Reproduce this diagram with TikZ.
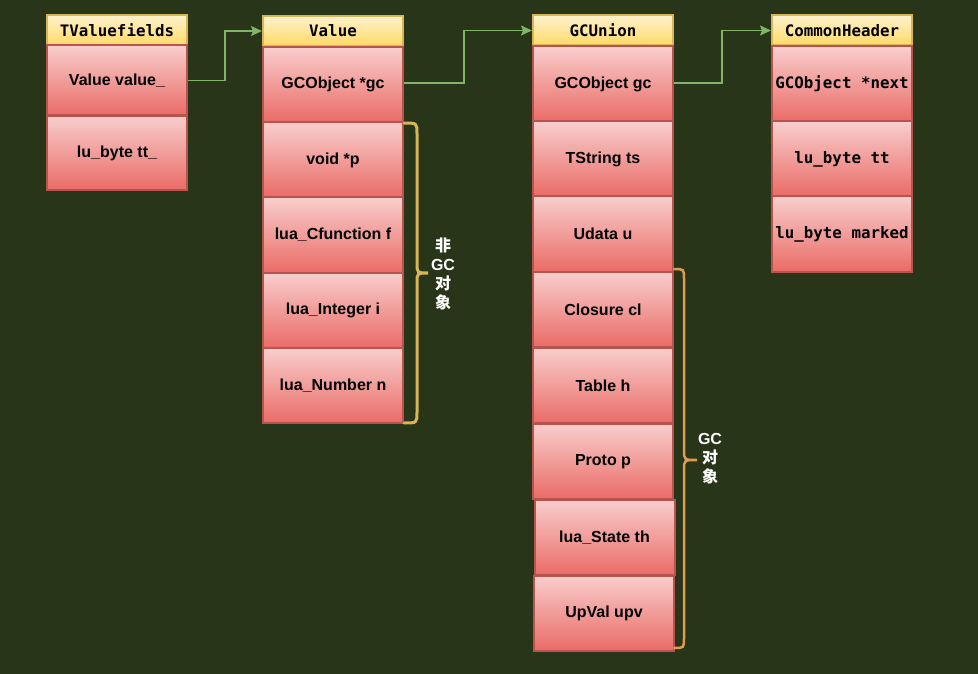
\documentclass[tikz,border=0pt]{standalone}
\usepackage{fontspec}
\setmainfont{Liberation Sans}
\newfontfamily\monofont{DejaVu Sans Mono}
\newfontfamily\cjk{Noto Sans CJK SC}
\usetikzlibrary{arrows.meta}
\definecolor{bg}{RGB}{40,53,24}
\definecolor{rowtop}{RGB}{248,206,204}
\definecolor{rowbot}{RGB}{234,107,102}
\definecolor{rowline}{RGB}{184,84,80}
\definecolor{headtop}{RGB}{255,242,204}
\definecolor{headbot}{RGB}{255,217,102}
\definecolor{headline}{RGB}{214,182,86}
\definecolor{linkgreen}{RGB}{130,179,102}
\definecolor{braceA}{RGB}{214,182,86}
\definecolor{braceB}{RGB}{220,156,82}
\tikzset{
  rowbox/.style={draw=rowline, line width=2pt, top color=rowtop, bottom color=rowbot,
    minimum width=140pt, minimum height=75pt, inner sep=0pt,
    font=\fontsize{16}{19}\selectfont\bfseries, text=black},
  monorow/.style={rowbox, font=\monofont\fontsize{15.8}{19}\selectfont\bfseries},
  headbox/.style={draw=headline, line width=2pt, top color=headtop, bottom color=headbot,
    minimum width=140pt, minimum height=30pt, inner sep=0pt,
    font=\monofont\fontsize{15.8}{19}\selectfont\bfseries, text=black},
  link/.style={draw=linkgreen, line width=1.3pt, -{Stealth[length=11pt,width=10pt,inset=2pt]}},
  bracetext/.style={text=white, align=center, font=\fontsize{16}{19}\selectfont\bfseries},
}
\begin{document}
\begin{tikzpicture}[x=1pt,y=-1pt]
\fill[bg] (0,0) rectangle (978,674);
\useasboundingbox (0,0) rectangle (978,674);

% TValuefields
\node[headbox] (th) at (117,30.5) {TValuefields};
\node[rowbox, minimum height=70pt] (t1) at (117,80.5) {Value value\_};
\node[rowbox, minimum height=74pt] (t2) at (117,153) {lu\_byte tt\_};

% Value
\node[headbox] (vh) at (333,31) {Value};
\node[rowbox] (v1) at (333,84.5) {GCObject *gc};
\node[rowbox] (v2) at (333,160) {void *p};
\node[rowbox] (v3) at (333,235) {lua\_Cfunction f};
\node[rowbox] (v4) at (333,310) {lua\_Integer i};
\node[rowbox] (v5) at (333,385.5) {lua\_Number n};

% GCUnion
\node[headbox] (gh) at (603,30.5) {GCUnion};
\node[rowbox] (g1) at (603,84) {GCObject gc};
\node[rowbox] (g2) at (603,159) {TString ts};
\node[rowbox] (g3) at (603,234) {Udata u};
\node[rowbox] (g4) at (603,309.5) {Closure cl};
\node[rowbox] (g5) at (603,385.5) {Table h};
\node[rowbox] (g6) at (603,461.5) {Proto p};
\node[rowbox] (g7) at (604.5,537.5) {lua\_State th};
\node[rowbox] (g8) at (604,613) {UpVal upv};

% CommonHeader
\node[headbox] (ch) at (842,30.5) {CommonHeader};
\node[monorow] (c1) at (842,84) {GCObject *next};
\node[monorow] (c2) at (842,159) {lu\_byte tt};
\node[monorow] (c3) at (842,234) {lu\_byte marked};

% links
\draw[link] (t1.east) -| ([xshift=-37pt]vh.west) -- (vh.west);
\draw[link] ([yshift=1.5pt]v1.east) -| ([xshift=-68pt]gh.west) -- (gh.west);
\draw[link] ([yshift=1pt]g1.east) -| ([xshift=-49pt]ch.west) -- (ch.west);

% braces
\draw[braceA, line width=3pt, line cap=round]
  (404,123) .. controls (417,123) .. (417,134) -- (417,263)
  .. controls (417,273) .. (428,273) .. controls (417,273) .. (417,283)
  -- (417,412) .. controls (417,423) .. (404,423);
\draw[braceB, line width=2.5pt, line cap=round]
  (674,269) .. controls (684,269) .. (684,279) -- (684,450)
  .. controls (684,460) .. (697,460) .. controls (684,460) .. (684,470)
  -- (684,638) .. controls (684,648) .. (674,648);

\node[bracetext] (nt) at (443,274) {{\cjk 非}\\GC\\{\cjk 对}\\{\cjk 象}};
\node[bracetext] (gt) at (710,459) {GC\\{\cjk 对}\\{\cjk 象}};
\end{tikzpicture}
\end{document}
